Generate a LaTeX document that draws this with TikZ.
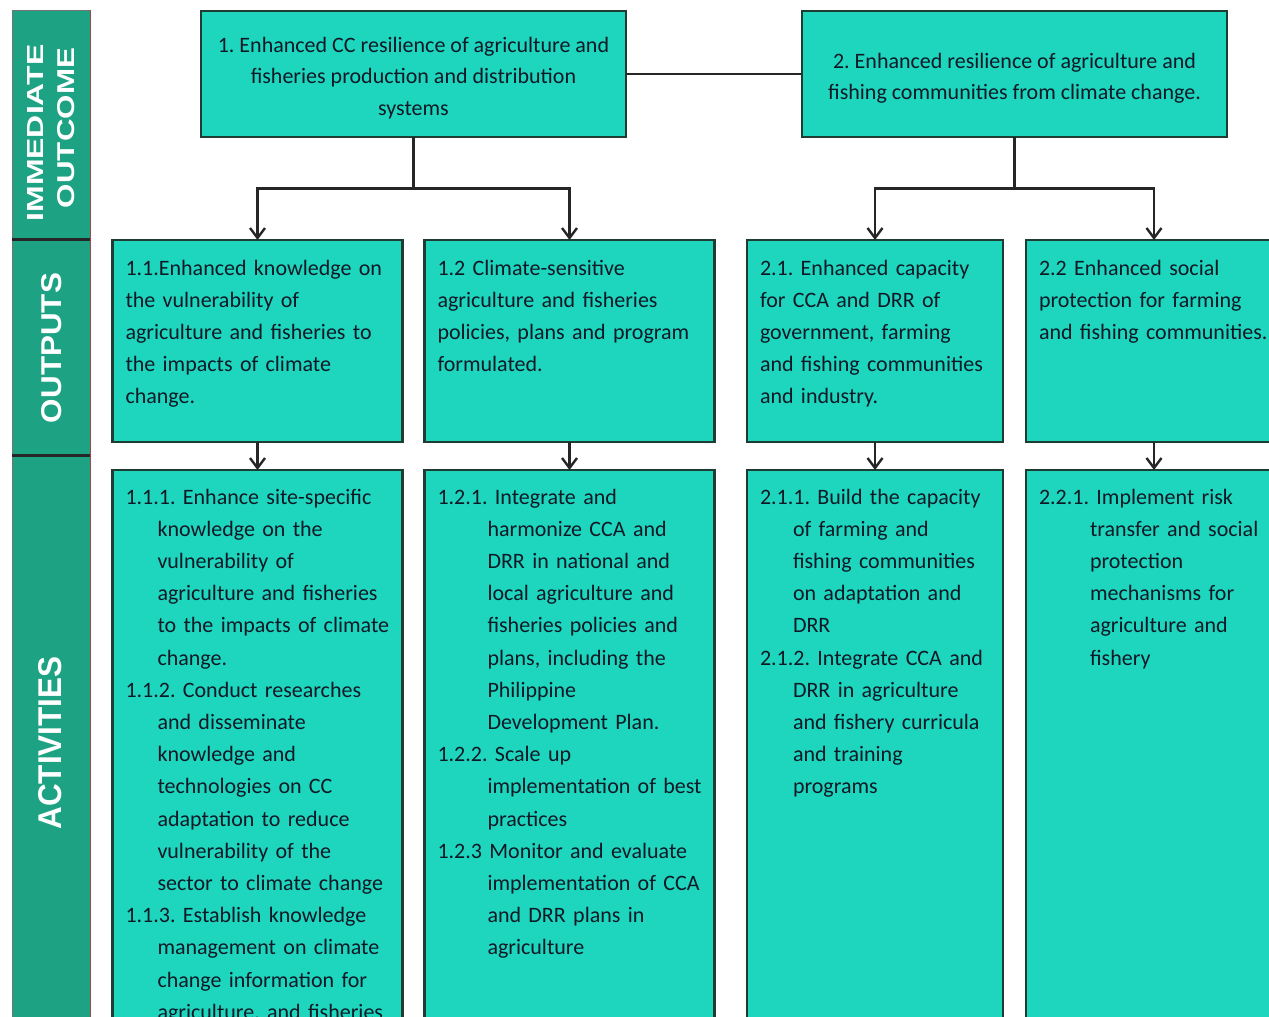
\documentclass[tikz,border=0pt]{standalone}
\usepackage{fontspec}
\usepackage{graphicx}
\setmainfont{Carlito}
\newfontfamily\sidefont{Liberation Sans}
\usetikzlibrary{trees,arrows.meta}
\definecolor{boxfill}{RGB}{30,214,190}
\definecolor{boxline}{RGB}{30,60,50}
\definecolor{sidefill}{RGB}{29,163,131}
\definecolor{sideedge}{RGB}{170,70,70}
\definecolor{inktext}{RGB}{15,25,38}
\newcommand{\actitem}[2]{\hangindent=#1\hangafter=1\rightskip=0pt minus 30pt\noindent #2\par}
\frenchspacing

\begin{document}
\begin{tikzpicture}
			[x=1pt, y=1pt,
			box/.style={rectangle, draw=boxline, line width=2.2pt, fill=boxfill, text=inktext, outer sep=0pt, anchor=north, font=\fontsize{22pt}{32.2pt}\selectfont\frenchspacing},
			topbox/.style={box, align=flush center, text width=404pt, inner xsep=10.5pt, inner ysep=0pt, font=\fontsize{22pt}{31.5pt}\selectfont\frenchspacing},
			outbox/.style={box, inner xsep=13pt, inner ysep=0pt, text width=#1, text height=35pt, text depth=167pt},
			actbox/.style={box, inner xsep=13pt, inner ysep=0pt, text width=#1, text height=34pt, text depth=566pt},
			sidelabel/.style={rotate=90, text=white, inner sep=0pt},
			growth parent anchor=south, parent anchor=south, child anchor=north,
			edge from parent fork down,
			edge from parent/.style={draw=black!85, line width=2.4pt, -{Straight Barb[length=10pt,width=15pt]}},
			level 2/.style={level distance=28pt}]
			\useasboundingbox (0,0) rectangle (1269,-1017);
			\fill[white] (0,0) rectangle (1269,-1017);
			\clip (0,0) rectangle (1269,-1017);
			\fill[sidefill] (12,-10) rectangle (90,-1030);
			\draw[black!55, line width=1pt] (12,-1030) -- (12,-10) -- (90,-10);
			\draw[sideedge, line width=1pt] (90,-10) -- (90,-1030);
			\draw[black!85, line width=3pt] (12,-239) -- (90,-239);
			\draw[black!85, line width=3pt] (12,-455) -- (90,-455);
			\node[sidelabel] (lbimm) at (35,-133) {\resizebox{177pt}{16pt}{\sidefont\bfseries IMMEDIATE}};
			\node[sidelabel] (lbout) at (66,-128) {\resizebox{160pt}{17pt}{\sidefont\bfseries OUTCOME}};
			\node[sidelabel] (lbputs) at (52,-348) {\resizebox{150pt}{20pt}{\sidefont\bfseries OUTPUTS}};
			\node[sidelabel] (lbact) at (50,-743) {\resizebox{173pt}{23pt}{\sidefont\bfseries ACTIVITIES}};
			\node[topbox, text height=41pt, text depth=85pt] (t1) at (413.5,-11) {1. Enhanced CC resilience of agriculture and\\ fisheries production and distribution\\ systems}
			[level distance=103pt, sibling distance=312pt]
			child
			{
				node[outbox=264pt] (o11) {1.1.Enhanced knowledge on\newline the vulnerability of\newline agriculture and fisheries to\newline the impacts of climate\newline change.}
				child
				{
					node[actbox=264pt] (a11) {\actitem{32pt}{1.1.1. Enhance site-specific\newline knowledge on the\newline vulnerability of\newline agriculture and fisheries\newline to the impacts of climate\newline change.}\actitem{32pt}{1.1.2. Conduct researches\newline and disseminate\newline knowledge and\newline technologies on CC\newline adaptation to reduce\newline vulnerability of the\newline sector to climate change}\actitem{32pt}{1.1.3. Establish knowledge\newline management on climate\newline change information for\newline agriculture, and fisheries}}
				}
			}
			child
			{
				node[outbox=264pt] (o12) {1.2 Climate-sensitive\newline agriculture and fisheries\newline policies, plans and program\newline formulated.}
				child
				{
					node[actbox=264pt] (a12) {\actitem{50pt}{1.2.1. Integrate and\newline harmonize CCA and\newline DRR in national and\newline local agriculture and\newline fisheries policies and\newline plans, including the\newline Philippine\newline Development Plan.}\actitem{50pt}{1.2.2. Scale up\newline implementation of best\newline practices}\actitem{50pt}{1.2.3 Monitor and evaluate\newline implementation of CCA\newline and DRR plans in\newline agriculture}}
				}
			};
			\node[topbox, text height=57pt, text depth=69pt] (t2) at (1014.5,-11) {2. Enhanced resilience of agriculture and\\ fishing communities from climate change.}
			[level distance=103pt, sibling distance=279pt]
			child
			{
				node[outbox=230pt] (o21) {2.1. Enhanced capacity\newline for CCA and DRR of\newline government, farming\newline and fishing communities\newline and industry.}
				child
				{
					node[actbox=230pt] (a21) {\actitem{33pt}{2.1.1. Build the capacity\newline of farming and\newline fishing communities\newline on adaptation and\newline DRR}\actitem{33pt}{2.1.2. Integrate CCA and\newline DRR in agriculture\newline and fishery curricula\newline and training\newline programs}}
				}
			}
			child
			{
				node[outbox=230pt] (o22) {2.2 Enhanced social\newline protection for farming\newline and fishing communities.}
				child
				{
					node[actbox=230pt] (a22) {\actitem{51pt}{2.2.1. Implement risk\newline transfer and social\newline protection\newline mechanisms for\newline agriculture and\newline fishery}}
				}
			};
			\draw[black!85, line width=2.4pt] (t1) -- (t2);
		\end{tikzpicture}
\end{document}
